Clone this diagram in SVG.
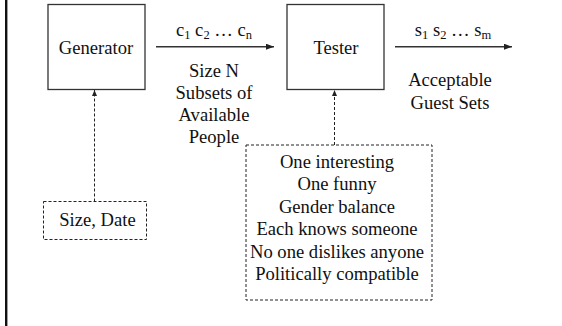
<svg xmlns="http://www.w3.org/2000/svg" width="562" height="326" viewBox="0 0 562 326">
  <style>
    text { font-family: "Liberation Serif", "Times New Roman", serif; font-size: 18.6px; fill: #111; text-anchor: middle; }
    .sub { font-size: 12.5px; }
    .box { fill: #fff; stroke: #333; stroke-width: 1.3; }
    .dbox { fill: #fff; stroke: #222; stroke-width: 1; stroke-dasharray: 3 2; }
    .flow { fill: none; stroke: #333; stroke-width: 1.6; }
    .dflow { fill: none; stroke: #222; stroke-width: 1; stroke-dasharray: 3 2; }
  </style>
  <defs>
    <marker id="head" viewBox="0 0 8 6" refX="8" refY="3" markerWidth="8" markerHeight="6" markerUnits="userSpaceOnUse" orient="auto">
      <path d="M0,0 L8,3 L0,6 z" fill="#222"/>
    </marker>
    <marker id="headSmall" viewBox="0 0 6 6" refX="6" refY="3" markerWidth="6" markerHeight="6" markerUnits="userSpaceOnUse" orient="auto">
      <path d="M0,0.5 L6,3 L0,5.5 z" fill="#222"/>
    </marker>
  </defs>

  <rect width="562" height="326" fill="#fff"/>
  <!-- page rule on the left -->
  <rect x="5" y="0" width="2.4" height="326" fill="#111"/>

  <g id="connectors">
    <line class="flow" x1="156" y1="46.7" x2="274" y2="46.7" marker-end="url(#head)"/>
    <line class="flow" x1="395" y1="46.7" x2="512" y2="46.7" marker-end="url(#head)"/>
    <line class="dflow" x1="94.5" y1="201.5" x2="94.5" y2="90" marker-end="url(#headSmall)"/>
    <line class="dflow" x1="334.5" y1="145" x2="334.5" y2="90" marker-end="url(#headSmall)"/>
  </g>

  <g id="generator">
    <rect class="box" x="48" y="4.5" width="97" height="85"/>
    <text x="96" y="53.5">Generator</text>
  </g>

  <g id="tester">
    <rect class="box" x="287" y="4.5" width="97" height="85"/>
    <text x="336" y="53.5">Tester</text>
  </g>

  <g id="candidates-label">
    <text x="214" y="35.5">c<tspan class="sub" dy="3.5">1</tspan><tspan dy="-3.5"> c</tspan><tspan class="sub" dy="3.5">2</tspan><tspan dy="-3.5"> … c</tspan><tspan class="sub" dy="3.5">n</tspan></text>
    <text x="214" y="77">Size N</text>
    <text x="214" y="99">Subsets of</text>
    <text x="214" y="121">Available</text>
    <text x="214" y="143">People</text>
  </g>

  <g id="results-label">
    <text x="453" y="35.5">s<tspan class="sub" dy="3.5">1</tspan><tspan dy="-3.5"> s</tspan><tspan class="sub" dy="3.5">2</tspan><tspan dy="-3.5"> … s</tspan><tspan class="sub" dy="3.5">m</tspan></text>
    <text x="450" y="86">Acceptable</text>
    <text x="450" y="109">Guest Sets</text>
  </g>

  <g id="size-date">
    <rect class="dbox" x="43.5" y="201.5" width="103" height="38"/>
    <text x="97.5" y="226">Size, Date</text>
  </g>

  <g id="criteria">
    <rect class="dbox" x="246" y="145" width="186" height="155"/>
    <text x="337" y="167.5">One interesting</text>
    <text x="337" y="190">One funny</text>
    <text x="337" y="212.5">Gender balance</text>
    <text x="337" y="235">Each knows someone</text>
    <text x="337" y="257.5">No one dislikes anyone</text>
    <text x="337" y="280">Politically compatible</text>
  </g>
</svg>
